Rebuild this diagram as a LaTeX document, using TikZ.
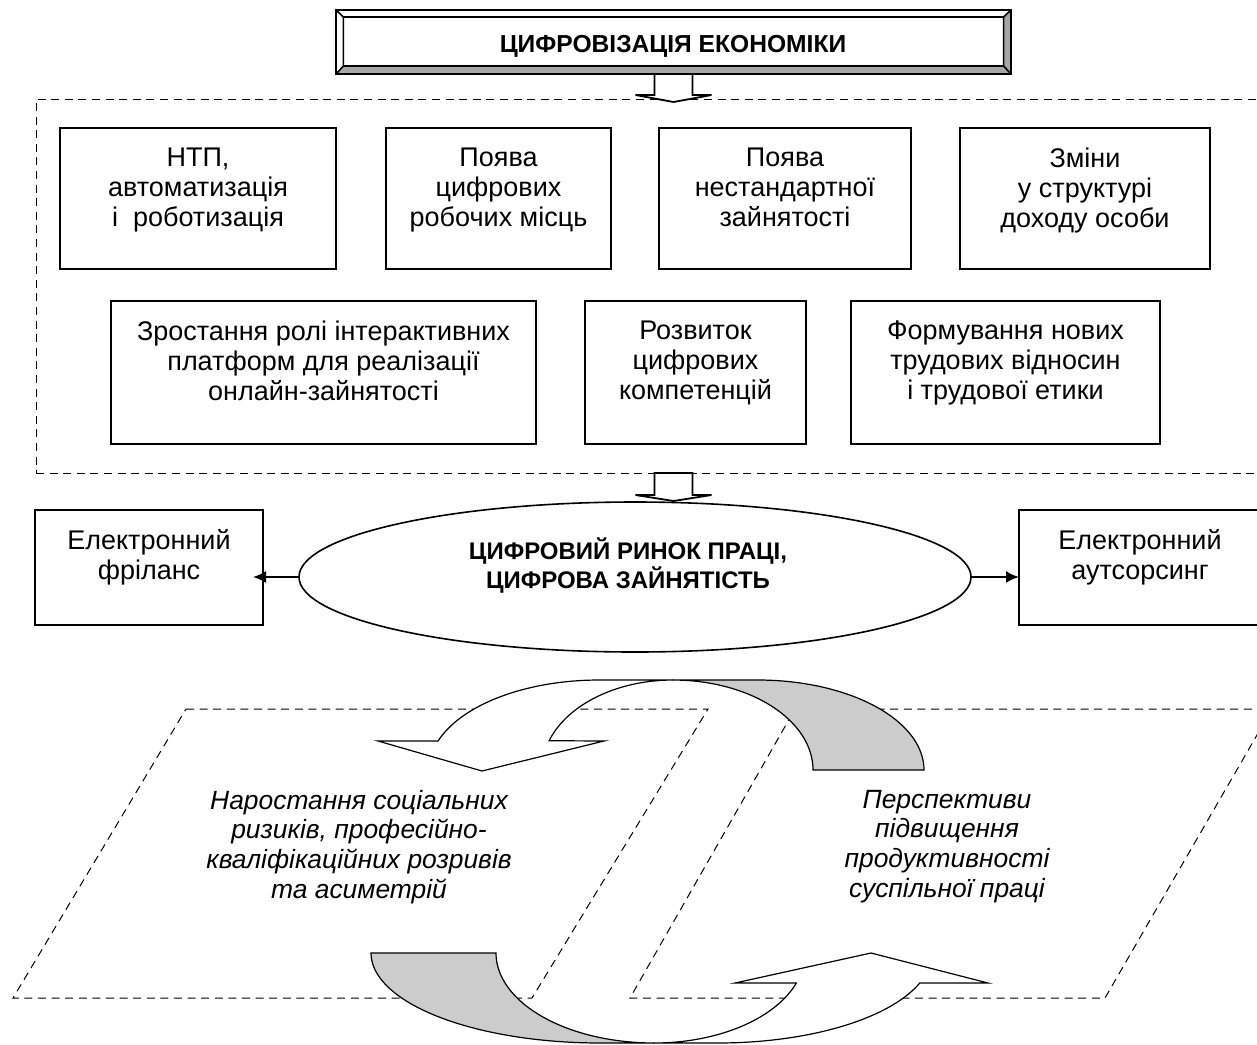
\documentclass[tikz,border=0pt]{standalone}
\usepackage{fontspec}
\setmainfont{Liberation Sans}
\usetikzlibrary{shapes.geometric,arrows.meta,calc}

\begin{document}
\begin{tikzpicture}[
		x=0.5pt, y=-0.5pt,
		every node/.style={font=\fontsize{13.5pt}{15pt}\selectfont},
		box/.style={draw, line width=0.8pt, fill=white, inner sep=0pt, outer sep=0pt},
		boxtext/.style={anchor=north, align=center, yshift=-6.3pt},
		boldtext/.style={align=center, font=\bfseries\fontsize{12pt}{14.5pt}\selectfont},
		trend/.style={anchor=north, align=center, font=\itshape\fontsize{13.2pt}{14.8pt}\selectfont},
		dashedframe/.style={draw, line width=0.5pt, dash pattern=on 4pt off 2.8pt},
		blockarrow/.style={draw, fill=white, line width=0.9pt},
		frontarrow/.style={draw, fill=white, line width=0.6pt},
		backarrow/.style={draw, fill=black!20, line width=0.6pt},
		bevel/.style={fill=black!35},
		sidearrow/.style={-{Latex[length=6.5pt,width=6pt]}, line width=1pt},
	]
	\path[use as bounding box] (0,0) rectangle (1257,1044);
	\clip (0,0) rectangle (1257,1044);

	% title with bevelled frame
	\node[box, minimum width=337.5pt, minimum height=32pt] (title) at (673.5,42) {};
	\coordinate (tNW) at ($(title.north west)+(3.7pt,-3.5pt)$);
	\coordinate (tNE) at ($(title.north east)+(-3.7pt,-3.5pt)$);
	\coordinate (tSE) at ($(title.south east)+(-3.7pt,4pt)$);
	\coordinate (tSW) at ($(title.south west)+(3.7pt,4pt)$);
	\fill[bevel] (title.south west) -- (title.south east) -- (tSE) -- (tSW) -- cycle;
	\fill[bevel] (title.south east) -- (title.north east) -- (tNE) -- (tSE) -- cycle;
	\draw[line width=0.8pt] (tNW) rectangle (tSE)
		(title.north west) -- (tNW) (title.north east) -- (tNE)
		(title.south east) -- (tSE) (title.south west) -- (tSW)
		(title.north west) rectangle (title.south east);
	\node[boldtext, anchor=base, font=\bfseries\fontsize{12.3pt}{14.5pt}\selectfont] (titletext) at (673,52) {ЦИФРОВІЗАЦІЯ ЕКОНОМІКИ};

	% factors of digitalisation
	\node[dashedframe, minimum width=619.5pt, minimum height=187pt, inner sep=0pt, outer sep=0pt] (digital) at (655.5,286) {};
	\draw[blockarrow] (title.south) ++(-19,0) -- ++(0,21) -- ++(-19,0) -- ++(38,7) -- ++(38,-7) -- ++(-19,0) -- ++(0,-21) -- cycle;

	\node[box, minimum width=138pt, minimum height=70.5pt] (ntp) at (198,198.5) {};
	\node[boxtext] (ntptext) at (ntp.north) {НТП,\\автоматизація\\і\ \ роботизація};
	\node[box, minimum width=112.5pt, minimum height=70.5pt] (jobs) at (498.5,198.5) {};
	\node[boxtext] (jobstext) at (jobs.north) {Поява\\цифрових\\робочих місць};
	\node[box, minimum width=126pt, minimum height=70.5pt] (nonstd) at (785,198.5) {};
	\node[boxtext] (nonstdtext) at (nonstd.north) {Поява\\нестандартної\\зайнятості};
	\node[box, minimum width=125pt, minimum height=70.5pt] (income) at (1085,198.5) {};
	\node[boxtext] (incometext) at (income.north) {Зміни\\у структурі\\доходу особи};

	\node[box, minimum width=212.5pt, minimum height=71.5pt] (platforms) at (323.5,372.5) {};
	\node[boxtext] (platformstext) at (platforms.north) {Зростання ролі інтерактивних\\платформ для реалізації\\онлайн-зайнятості};
	\node[box, minimum width=110.5pt, minimum height=71.5pt] (skills) at (695.5,372.5) {};
	\node[boxtext] (skillstext) at (skills.north) {Розвиток\\цифрових\\компетенцій};
	\node[box, minimum width=154.5pt, minimum height=71.5pt] (relations) at (1005.5,372.5) {};
	\node[boxtext] (relationstext) at (relations.north) {Формування нових\\трудових відносин\\і трудової етики};

	% digital labour market
	\node[draw, ellipse, line width=0.8pt, minimum width=336pt, minimum height=75pt, inner sep=0pt, outer sep=0pt] (market) at (635,577) {};
	\node[boldtext, anchor=north, yshift=-14.5pt] (markettext) at ($(market.north)+(-7,0)$) {ЦИФРОВИЙ РИНОК ПРАЦІ,\\ЦИФРОВА ЗАЙНЯТІСТЬ};
	\draw[blockarrow] (title.south |- digital.south) ++(-19,0) -- ++(0,22) -- ++(-19,0) -- ++(38,6) -- ++(38,-6) -- ++(-19,0) -- ++(0,-22) -- cycle;

	\node[box, minimum width=114pt, minimum height=57.5pt] (freelance) at (149,567.5) {};
	\node[boxtext] (freelancetext) at (freelance.north) {Електронний\\фріланс};
	\node[box, minimum width=121pt, minimum height=57.5pt] (outsourcing) at (1140,567.5) {};
	\node[boxtext] (outsourcingtext) at (outsourcing.north) {Електронний\\аутсорсинг};
	\draw[sidearrow, shorten >=-5pt] (market.west) -- (market.west -| freelance.east);
	\draw[sidearrow] (market.east) -- (market.east -| outsourcing.west);

	% two outcomes
	\draw[dashedframe] (186,709) -- (708,709) -- (532,998) -- (13,998) -- cycle;
	\draw[dashedframe] (795,709) -- (1272,709) -- (1105,998) -- (630,998) -- cycle;
	\node[trend] (risks) at (359,783) {Наростання соціальних\\ризиків, професійно-\\кваліфікаційних розривів\\та асиметрій};
	\node[trend] (prospects) at (947,783) {Перспективи\\підвищення\\продуктивності\\суспільної праці};

	% curved arrows
	\filldraw[backarrow] (673,680) -- (758,680) -- plot[domain=90:0, samples=40, variable=\t] ({758+166*cos(\t)},{770-90*sin(\t)})
		-- (813,770) -- plot[domain=0:90, samples=40, variable=\t] ({673+140*cos(\t)},{770-90*sin(\t)}) -- cycle;
	\filldraw[frontarrow] (438,741) -- plot[domain=161.2:90, samples=40, variable=\t] ({599+170*cos(\t)},{770-90*sin(\t)})
		-- (673,680) -- plot[domain=90:161, samples=40, variable=\t] ({673+131*cos(\t)},{770-90*sin(\t)})
		-- (604,741) -- (482,771) -- (378,741) -- cycle;

	\filldraw[backarrow] (371,953) -- plot[domain=180:270, samples=40, variable=\t] ({600+229*cos(\t)},{953-90*sin(\t)})
		-- (654,1043) -- plot[domain=270:180, samples=40, variable=\t] ({654+158*cos(\t)},{953-90*sin(\t)}) -- cycle;
	\filldraw[frontarrow] (654,1043) -- (718,1043) -- plot[domain=270:340.5, samples=40, variable=\t] ({718+214*cos(\t)},{953-90*sin(\t)})
		-- (988,983) -- (871,953) -- (735,983) -- (796,983)
		-- plot[domain=340.5:270, samples=40, variable=\t] ({654+151*cos(\t)},{953-90*sin(\t)}) -- cycle;
\end{tikzpicture}
\end{document}
